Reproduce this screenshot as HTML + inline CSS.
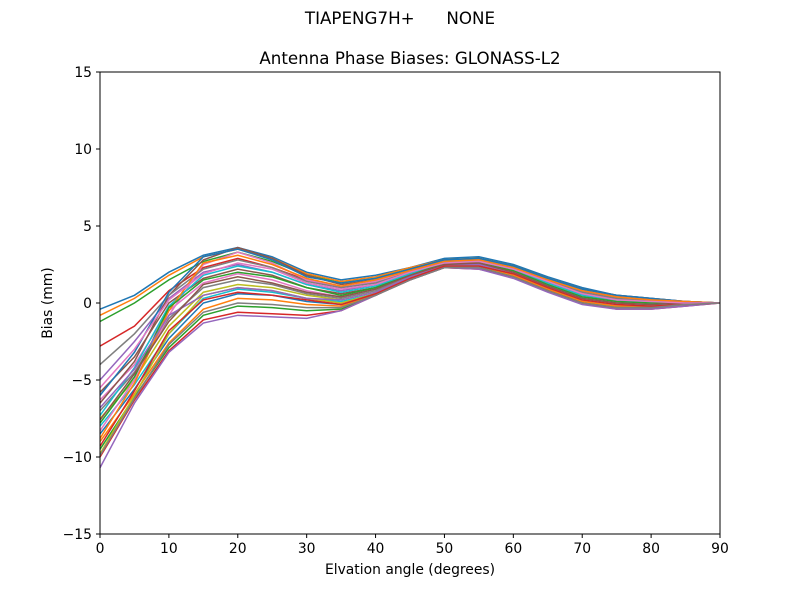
<!DOCTYPE html>
<html><head><meta charset="utf-8"><style>
body{margin:0;background:#fff}
svg text{font-family:"DejaVu Sans","Liberation Sans",sans-serif;fill:#000}
</style></head><body>
<svg id="chart" width="800" height="600" xmlns="http://www.w3.org/2000/svg">
<rect width="800" height="600" fill="#fff"/>
<text x="400" y="24" font-size="16.7" text-anchor="middle" xml:space="preserve">TIAPENG7H+      NONE</text>
<text x="410" y="64" font-size="16.7" text-anchor="middle">Antenna Phase Biases: GLONASS-L2</text>
<g id="lines"></g>
<g id="axes"></g>
<text x="410" y="574" font-size="13.9" text-anchor="middle">Elvation angle (degrees)</text>
<text x="52" y="303" font-size="13.9" text-anchor="middle" transform="rotate(-90 52 303)">Bias (mm)</text>
</svg>
<script>
const elevations=[0,5,10,15,20,25,30,35,40,45,50,55,60,65,70,75,80,85,90];
const xTicks=[0,10,20,30,40,50,60,70,80,90];
const yTicks=[-15,-10,-5,0,5,10,15];
const s1=[-0.4,0.5,2.0,3.1,3.6,3.0,2.0,1.5,1.8,2.3,2.9,3.0,2.5,1.7,1.0,0.5,0.3,0.1,0];
const s2=[-0.8,0.3,1.8,3.0,3.5,2.9,1.9,1.4,1.7,2.3,2.8,2.9,2.4,1.6,0.9,0.4,0.2,0.1,0];
const s3=[-1.2,0,1.5,2.7,3.3,2.7,1.8,1.3,1.6,2.2,2.8,2.9,2.4,1.6,0.8,0.4,0.2,0.1,0];
const s4=[-2.8,-1.5,0.8,2.3,2.9,2.3,1.5,1.0,1.4,2.1,2.7,2.8,2.3,1.5,0.7,0.3,0.1,0,0];
const s5=[-5.0,-2.5,0.3,2.0,2.5,2.0,1.2,0.8,1.2,2.0,2.6,2.7,2.2,1.4,0.6,0.2,0.1,0,0];
const s6=[-5.8,-3.5,0,1.6,2.2,1.8,1.0,0.6,1.0,1.9,2.6,2.6,2.1,1.3,0.5,0.1,0,0,0];
const s7=[-6.3,-4.0,-0.5,1.3,1.9,1.5,0.8,0.4,0.9,1.8,2.5,2.6,2.1,1.2,0.4,0.1,0,0,0];
const s8=[-7.0,-4.5,-1.0,1.0,1.5,1.2,0.6,0.3,0.8,1.7,2.5,2.5,2.0,1.1,0.3,0,-0.1,0,0];
const s9=[-7.5,-5.0,-1.5,0.7,1.2,1.0,0.5,0.2,0.7,1.7,2.4,2.5,1.9,1.0,0.3,0,-0.1,0,0];
const s10=[-8.0,-5.3,-2.0,0.3,0.9,0.7,0.3,0.1,0.6,1.6,2.4,2.4,1.9,1.0,0.2,-0.1,-0.1,0,0];
const s11=[-8.5,-5.6,-2.3,0,0.6,0.5,0.1,-0.1,0.5,1.6,2.4,2.4,1.8,0.9,0.1,-0.2,-0.2,-0.1,0];
const s12=[-9.0,-5.9,-2.6,-0.4,0.3,0.2,-0.1,-0.2,0.5,1.5,2.3,2.3,1.8,0.9,0.1,-0.2,-0.2,-0.1,0];
const s13=[-9.5,-6.1,-2.9,-0.8,-0.2,-0.3,-0.5,-0.4,0.5,1.5,2.3,2.3,1.7,0.8,0,-0.3,-0.3,-0.1,0];
const s14=[-10.0,-6.3,-3.1,-1.1,-0.6,-0.7,-0.8,-0.5,0.5,1.5,2.3,2.2,1.7,0.8,0,-0.4,-0.4,-0.2,0];
const s15=[-10.7,-6.5,-3.2,-1.3,-0.8,-0.9,-1.0,-0.5,0.5,1.5,2.3,2.2,1.6,0.7,-0.1,-0.4,-0.4,-0.2,0];
const s16=[-6.5,-3.8,0.5,2.8,3.6,2.9,1.8,1.2,1.5,2.2,2.8,2.9,2.4,1.6,0.9,0.5,0.3,0.1,0];
const s17=[-8.3,-5.0,-0.8,2.5,3.3,2.6,1.5,1.0,1.4,2.1,2.7,2.8,2.3,1.5,0.8,0.4,0.2,0.1,0];
const s18=[-4.0,-2.0,0.5,2.2,2.8,2.3,1.4,1.0,1.3,2.0,2.7,2.8,2.3,1.5,0.7,0.3,0.1,0,0];
const s19=[-9.8,-6.0,-2.0,0.5,1.0,0.8,0.3,0.0,0.6,1.6,2.5,2.5,2.0,1.1,0.3,0,-0.1,0,0];
const s20=[-7.3,-4.2,-0.2,1.8,2.4,2.0,1.2,0.7,1.1,1.9,2.6,2.7,2.2,1.3,0.5,0.2,0,0,0];
const s21=[-6.0,-3.2,0.7,3.0,3.5,2.8,1.7,1.3,1.6,2.2,2.8,2.9,2.4,1.6,0.9,0.5,0.3,0.1,0];
const s22=[-8.8,-5.2,-0.5,2.6,3.1,2.5,1.6,1.1,1.5,2.1,2.7,2.8,2.3,1.5,0.8,0.4,0.2,0.1,0];
const s23=[-7.8,-4.8,-0.3,1.5,2.0,1.7,1.0,0.5,1.0,1.8,2.6,2.6,2.1,1.2,0.4,0.1,0,0,0];
const s24=[-9.3,-5.7,-1.8,0.2,0.7,0.5,0.2,-0.1,0.6,1.6,2.4,2.4,1.9,1.0,0.2,-0.1,-0.2,-0.1,0];
const s25=[-6.8,-4.3,-0.8,0.5,1.0,0.8,0.3,0.2,0.7,1.7,2.5,2.5,2.0,1.1,0.3,0,-0.1,0,0];
const s26=[-7.6,-4.6,-1.2,1.2,1.7,1.3,0.7,0.4,0.9,1.8,2.5,2.6,2.0,1.1,0.3,0,-0.1,0,0];
const s27=[-5.5,-3.0,0.2,1.9,2.6,2.2,1.3,0.9,1.2,2.0,2.6,2.7,2.2,1.4,0.6,0.2,0.1,0,0];
const s28=[-9.9,-6.2,-2.7,-0.6,0.0,-0.1,-0.3,-0.3,0.5,1.5,2.3,2.3,1.7,0.8,0,-0.3,-0.3,-0.1,0];
const seriesList=[s1,s2,s3,s4,s5,s6,s7,s8,s9,s10,s11,s12,s13,s14,s15,s16,s17,s18,s19,s20,s21,s22,s23,s24,s25,s26,s27,s28];
const colors=['#1f77b4','#ff7f0e','#2ca02c','#d62728','#9467bd','#8c564b','#e377c2','#7f7f7f','#bcbd22','#17becf'];
const L=100,R=720,T=72,B=534,xMin=0,xMax=90,yMin=-15,yMax=15;
const xs=v=>L+(v-xMin)/(xMax-xMin)*(R-L);
const ys=v=>B-(v-yMin)/(yMax-yMin)*(B-T);
const NS='http://www.w3.org/2000/svg';
const lg=document.getElementById('lines');
seriesList.forEach((s,i)=>{
  const p=document.createElementNS(NS,'polyline');
  p.setAttribute('points',s.map((v,j)=>xs(elevations[j])+','+ys(v)).join(' '));
  p.setAttribute('fill','none');p.setAttribute('stroke',colors[i%10]);p.setAttribute('stroke-width','1.5');
  
  
  lg.appendChild(p);
});
const ax=document.getElementById('axes');
let h='<rect x="100" y="72" width="620" height="462" fill="none" stroke="#000" stroke-width="1"/>';
xTicks.forEach(t=>{const x=xs(t);h+=`<line x1="${x}" y1="534" x2="${x}" y2="538" stroke="#000"/><text x="${x}" y="553" font-size="13.9" text-anchor="middle">${t}</text>`;});
yTicks.forEach(t=>{const y=ys(t);h+=`<line x1="96" y1="${y}" x2="100" y2="${y}" stroke="#000"/><text x="92" y="${y+5}" font-size="13.9" text-anchor="end">${t<0?'\u2212'+(-t):t}</text>`;});
ax.innerHTML=h;
</script>
</body></html>
